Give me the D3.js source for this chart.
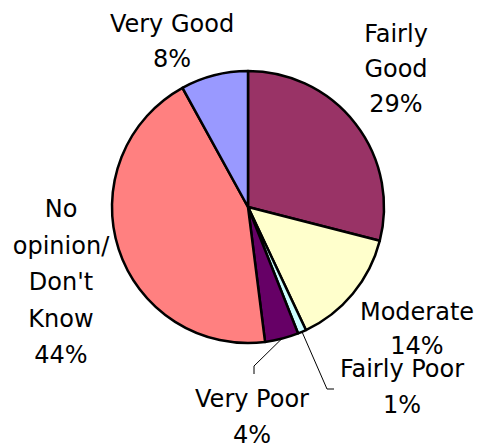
<!DOCTYPE html>
<html>
<head>
<meta charset="utf-8">
<script src="https://cdn.jsdelivr.net/npm/d3@7"></script>
<style>
  html, body { margin: 0; padding: 0; background: #ffffff; }
  svg { display: block; }
  text { font-family: "DejaVu Sans", Verdana, sans-serif; font-size: 24px; fill: #000; }
</style>
</head>
<body>
<svg id="chart" width="482" height="446"></svg>
<script>
// Survey rating shares, clockwise from 12 o'clock
const categories = ["Fairly Good", "Moderate", "Fairly Poor", "Very Poor", "No opinion/ Don't Know", "Very Good"];
const values = [29, 14, 1, 4, 44, 8];
const colors = ["#993366", "#FFFFCC", "#CCFFFF", "#660066", "#FF8080", "#9999FF"];

// Label text lines per slice
const labelLines = [
  ["Fairly", "Good"],
  ["Moderate"],
  ["Fairly Poor"],
  ["Very Poor"],
  ["No", "opinion/", "Don't", "Know"],
  ["Very Good"]
];

// Label placement: centre x, first baseline and line step
const labelPos = [
  { x: 396, y: 42, step: 35 },
  { x: 417, y: 320, step: 34 },
  { x: 402, y: 377, step: 36 },
  { x: 252, y: 407, step: 36 },
  { x: 61, y: 217, step: 36.5 },
  { x: 172, y: 32, step: 35 }
];
// Leader lines for the thin slices (bend point and end point)
const leaders = {
  2: [[327, 389], [334, 389]],
  3: [[254, 366], [254, 374]]
};

const cx = 248, cy = 207, r = 136;

const svg = d3.select("#chart");
const g = svg.append("g").attr("transform", `translate(${cx},${cy})`);

const pie = d3.pie().sort(null).value(d => d).startAngle(0).endAngle(2 * Math.PI);
const arcs = pie(values);
const arc = d3.arc().innerRadius(0).outerRadius(r);

g.selectAll("path.slice")
  .data(arcs)
  .join("path")
  .attr("class", "slice")
  .attr("d", arc)
  .attr("fill", (d, i) => colors[i])
  .attr("stroke", "#000")
  .attr("stroke-width", 2.5)
  .attr("stroke-linejoin", "round");

// Leader lines from the slice edge to the label
Object.keys(leaders).forEach(k => {
  const a = arcs[k];
  const mid = (a.startAngle + a.endAngle) / 2;
  const start = [cx + r * Math.sin(mid), cy - r * Math.cos(mid)];
  const pts = [start, ...leaders[k]];
  svg.append("path")
    .attr("d", d3.line()(pts))
    .attr("fill", "none")
    .attr("stroke", "#000")
    .attr("stroke-width", 1);
});

// Labels with percentage as the last line
const total = d3.sum(values);
arcs.forEach((a, i) => {
  const p = labelPos[i];
  const lines = labelLines[i].concat([Math.round(a.data / total * 100) + "%"]);
  const t = svg.append("text")
    .attr("text-anchor", "middle")
    .attr("x", p.x)
    .attr("y", p.y);
  lines.forEach((s, j) => {
    t.append("tspan")
      .attr("x", p.x)
      .attr("y", p.y + j * p.step)
      .text(s);
  });
});
</script>
</body>
</html>
